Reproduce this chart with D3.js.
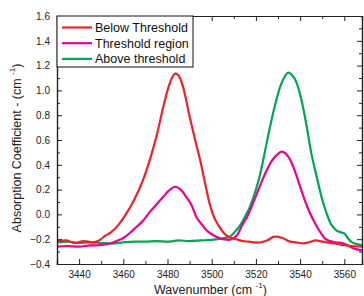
<!DOCTYPE html>
<html>
<head>
<meta charset="utf-8">
<script src="https://cdn.jsdelivr.net/npm/d3@7"></script>
<style>
    body { margin: 0; background: #fff; }
    svg { display: block; font-family: "Liberation Sans", Arial, sans-serif; }
</style>
</head>
<body>
<svg id="chart"></svg>
<script>
// Below Threshold (red)
const belowX = [3430, 3434, 3438, 3442, 3446, 3449, 3452, 3454, 3458, 3461.5, 3465, 3469, 3472, 3475, 3478, 3480, 3482, 3483.5, 3485, 3487, 3490, 3492.5, 3495, 3497, 3499, 3501, 3503.5, 3506, 3508, 3511, 3514, 3517, 3521, 3525, 3528.5, 3532, 3535.5, 3538, 3541.5, 3544, 3547, 3550, 3553.5, 3556, 3559.5, 3563, 3568];
const belowY = [-0.22, -0.21, -0.23, -0.215, -0.225, -0.21, -0.17, -0.15, -0.08, 0.01, 0.12, 0.28, 0.44, 0.63, 0.86, 1.0, 1.1, 1.135, 1.12, 1.03, 0.79, 0.6, 0.42, 0.25, 0.09, -0.02, -0.10, -0.16, -0.185, -0.2, -0.215, -0.22, -0.228, -0.21, -0.18, -0.19, -0.22, -0.225, -0.233, -0.225, -0.21, -0.22, -0.23, -0.235, -0.247, -0.255, -0.26];

// Threshold region (magenta)
const regionX = [3430, 3435, 3440, 3445, 3449.5, 3454, 3457, 3460, 3463, 3466, 3469, 3472, 3475, 3478, 3480.5, 3483.5, 3486, 3488.5, 3491, 3493, 3495.5, 3497.5, 3500, 3502, 3505, 3508, 3510, 3511.5, 3514, 3516, 3518, 3520.5, 3523, 3525, 3527.5, 3529.5, 3531.5, 3533.5, 3535.5, 3538, 3540, 3542, 3544.5, 3547, 3549, 3551, 3553.5, 3556, 3559.5, 3562, 3564, 3568];
const regionY = [-0.26, -0.255, -0.26, -0.25, -0.248, -0.235, -0.215, -0.19, -0.15, -0.10, -0.05, 0.02, 0.08, 0.14, 0.19, 0.223, 0.2, 0.14, 0.07, -0.02, -0.08, -0.126, -0.16, -0.18, -0.2, -0.205, -0.19, -0.166, -0.08, -0.02, 0.06, 0.17, 0.28, 0.36, 0.44, 0.48, 0.506, 0.49, 0.44, 0.33, 0.224, 0.12, 0.009, -0.08, -0.14, -0.19, -0.215, -0.225, -0.233, -0.255, -0.273, -0.29];

// Above threshold (green)
const aboveX = [3430, 3435, 3440, 3445, 3450, 3455, 3460, 3465, 3470, 3475, 3480, 3485, 3490, 3495, 3500, 3504, 3508, 3510.5, 3513, 3515, 3517.3, 3520, 3522, 3524, 3526.4, 3528.5, 3531, 3533, 3534.7, 3536.5, 3538.5, 3540.5, 3543, 3545, 3547.5, 3550, 3552, 3554, 3556.5, 3558.5, 3560.3, 3562, 3563.5, 3566, 3568];
const aboveY = [-0.225, -0.22, -0.23, -0.225, -0.23, -0.235, -0.225, -0.22, -0.22, -0.215, -0.22, -0.21, -0.215, -0.21, -0.205, -0.195, -0.18, -0.14, -0.085, -0.02, 0.062, 0.2, 0.33, 0.5, 0.707, 0.87, 1.03, 1.11, 1.143, 1.12, 1.057, 0.93, 0.707, 0.5, 0.304, 0.12, 0.009, -0.08, -0.13, -0.145, -0.158, -0.2, -0.225, -0.24, -0.247];

const seriesNames = ["Below Threshold", "Threshold region", "Above threshold"];
const seriesColors = ["#ee2229", "#ec008c", "#00a651"];
const xTicks = [3440, 3460, 3480, 3500, 3520, 3540, 3560];
const yTicks = [-0.4, -0.2, 0.0, 0.2, 0.4, 0.6, 0.8, 1.0, 1.2, 1.4, 1.6];

const width = 364, height = 296;
const margin = { top: 16, right: 2, bottom: 32, left: 57 };

const svg = d3.select("#chart").attr("width", width).attr("height", height);

const x = d3.scaleLinear().domain([3430, 3568]).range([margin.left, width - margin.right]);
const y = d3.scaleLinear().domain([-0.4, 1.6]).range([height - margin.bottom, margin.top]);

const xMinor = d3.range(3430, 3570, 10).filter(v => !xTicks.includes(v));
const yMinor = d3.range(-3, 16, 2).map(v => v / 10);

svg.append("clipPath").attr("id", "clip")
    .append("rect")
    .attr("x", margin.left).attr("y", margin.top)
    .attr("width", width - margin.left - margin.right)
    .attr("height", height - margin.top - margin.bottom);

const series = [
    { name: seriesNames[0], color: seriesColors[0], xs: belowX, ys: belowY },
    { name: seriesNames[1], color: seriesColors[1], xs: regionX, ys: regionY },
    { name: seriesNames[2], color: seriesColors[2], xs: aboveX, ys: aboveY }
];

const line = d3.line()
    .x(d => x(d[0]))
    .y(d => y(d[1]))
    .curve(d3.curveMonotoneX);

const lines = svg.append("g").attr("clip-path", "url(#clip)");
// draw green first, red last like the reference stacking
[2, 1, 0].forEach(i => {
    const s = series[i];
    lines.append("path")
        .datum(s.xs.map((v, j) => [v, s.ys[j]]))
        .attr("fill", "none")
        .attr("stroke", s.color)
        .attr("stroke-width", 2.2)
        .attr("stroke-linejoin", "round")
        .attr("d", line);
});

function styleAxis(g) {
    g.select(".domain").attr("stroke", "#222").attr("stroke-width", 1.2);
    g.selectAll(".tick line").attr("stroke", "#222");
    g.selectAll("text").attr("font-size", "10px").attr("fill", "#222")
        .attr("font-family", "'Liberation Sans', Arial, sans-serif");
}

const bottom = height - margin.bottom;
const right = width - margin.right;

// bottom
svg.append("g").attr("transform", `translate(0,${bottom})`)
    .call(d3.axisBottom(x).tickValues(xTicks).tickSize(-5).tickPadding(7).tickFormat(d3.format("d")))
    .call(styleAxis);
svg.append("g").attr("transform", `translate(0,${bottom})`)
    .call(d3.axisBottom(x).tickValues(xMinor).tickSize(-3).tickFormat(""))
    .call(styleAxis);
// top
svg.append("g").attr("transform", `translate(0,${margin.top})`)
    .call(d3.axisTop(x).tickValues(xTicks).tickSize(-5).tickFormat(""))
    .call(styleAxis);
svg.append("g").attr("transform", `translate(0,${margin.top})`)
    .call(d3.axisTop(x).tickValues(xMinor).tickSize(-3).tickFormat(""))
    .call(styleAxis);
// left
svg.append("g").attr("transform", `translate(${margin.left},0)`)
    .call(d3.axisLeft(y).tickValues(yTicks).tickSize(-5).tickPadding(7).tickFormat(d3.format(".1f")))
    .call(styleAxis);
svg.append("g").attr("transform", `translate(${margin.left},0)`)
    .call(d3.axisLeft(y).tickValues(yMinor).tickSize(-3).tickFormat(""))
    .call(styleAxis);
// right
svg.append("g").attr("transform", `translate(${right},0)`)
    .call(d3.axisRight(y).tickValues(yTicks).tickSize(-5).tickFormat(""))
    .call(styleAxis);
svg.append("g").attr("transform", `translate(${right},0)`)
    .call(d3.axisRight(y).tickValues(yMinor).tickSize(-3).tickFormat(""))
    .call(styleAxis);

// axis titles
const xTitle = svg.append("text")
    .attr("x", (margin.left + right) / 2 + 1)
    .attr("y", 294)
    .attr("text-anchor", "middle")
    .attr("font-size", "12.5px")
    .attr("fill", "#222");
xTitle.append("tspan").text("Wavenumber (cm ");
xTitle.append("tspan").attr("font-size", "8px").attr("dy", -6).text("-1");
xTitle.append("tspan").attr("dy", 6).text(")");

const yTitle = svg.append("text")
    .attr("transform", `translate(21,148) rotate(-90)`)
    .attr("text-anchor", "middle")
    .attr("font-size", "12.5px")
    .attr("fill", "#222");
yTitle.append("tspan").text("Absorption Coefficient - (cm ");
yTitle.append("tspan").attr("font-size", "8px").attr("dy", -6).text("-1");
yTitle.append("tspan").attr("dy", 6).text(")");

// legend
const legend = svg.append("g");
legend.append("rect")
    .attr("x", margin.left).attr("y", margin.top)
    .attr("width", 136).attr("height", 51)
    .attr("fill", "#fff").attr("stroke", "#111").attr("stroke-width", 1);

series.forEach((s, i) => {
    const ly = 27.5 + i * 15.7;
    legend.append("line")
        .attr("x1", 62).attr("x2", 92)
        .attr("y1", ly).attr("y2", ly)
        .attr("stroke", s.color).attr("stroke-width", 2.2);
    legend.append("text")
        .attr("x", 95).attr("y", ly)
        .attr("dy", "0.35em")
        .attr("font-size", "12.5px")
        .attr("fill", "#111")
        .text(s.name);
});
</script>
</body>
</html>
